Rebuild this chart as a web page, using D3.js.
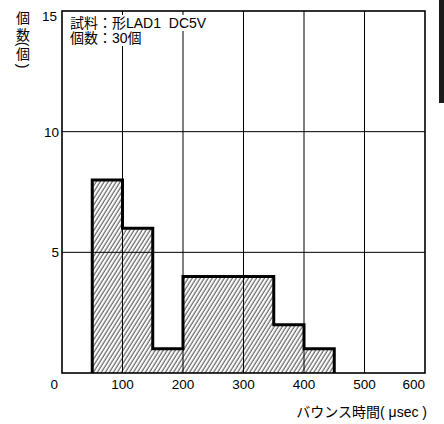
<!DOCTYPE html>
<html>
<head>
<meta charset="utf-8">
<script src="https://cdn.jsdelivr.net/npm/d3@7"></script>
<style>
html, body { margin: 0; padding: 0; background: #fff; overflow: hidden; }
svg { display: block; }
svg text { font-family: "Liberation Sans", Arial, "Noto Sans CJK JP", sans-serif; fill: #000; }
</style>
</head>
<body>
<div class="chart"></div>
<script>
// histogram bins (usec) and counts
const binStart = [50, 100, 150, 200, 250, 300, 350, 400];
const binEnd = [100, 150, 200, 250, 300, 350, 400, 450];
const counts = [8, 6, 1, 4, 4, 4, 2, 1];
const xTicks = [0, 100, 200, 300, 400, 500, 600];
const yTicks = [5, 10, 15];
const xGrid = [100, 200, 300, 400, 500];
const yGrid = [5, 10];
const noteLines = ['試料：形LAD1\u00a0\u00a0DC5V', '個数：30個'];

const width = 444, height = 424;
const svg = d3.select('.chart').append('svg')
	.attr('width', width)
	.attr('height', height);

const x = d3.scaleLinear().domain([0, 600]).range([62, 425]);
const y = d3.scaleLinear().domain([0, 15]).range([373, 11]);

const defs = svg.append('defs');
defs.append('pattern')
	.attr('id', 'hatch')
	.attr('patternUnits', 'userSpaceOnUse')
	.attr('width', 3.4)
	.attr('height', 4)
	.attr('patternTransform', 'rotate(32)')
	.append('line')
	.attr('x1', 1).attr('y1', 0)
	.attr('x2', 1).attr('y2', 4)
	.attr('stroke', '#000')
	.attr('stroke-width', 0.8);

// hatched bars
svg.selectAll('rect.bar')
	.data(counts)
	.enter()
	.append('rect')
	.attr('class', 'bar')
	.attr('x', (d, i) => x(binStart[i]))
	.attr('y', d => y(d))
	.attr('width', (d, i) => x(binEnd[i]) - x(binStart[i]))
	.attr('height', d => y(0) - y(d))
	.attr('fill', 'url(#hatch)');

// grid
svg.selectAll('line.vgrid')
	.data(xGrid)
	.enter()
	.append('line')
	.attr('x1', d => x(d)).attr('x2', d => x(d))
	.attr('y1', y(15)).attr('y2', y(0))
	.attr('stroke', '#000').attr('stroke-width', 1);

svg.selectAll('line.hgrid')
	.data(yGrid)
	.enter()
	.append('line')
	.attr('x1', x(0)).attr('x2', x(600))
	.attr('y1', d => y(d)).attr('y2', d => y(d))
	.attr('stroke', '#000').attr('stroke-width', 1);

// step outline
const pts = [[binStart[0], 0]];
counts.forEach((c, i) => { pts.push([binStart[i], c]); pts.push([binEnd[i], c]); });
pts.push([binEnd[binEnd.length - 1], 0]);
svg.append('path')
	.attr('d', d3.line().x(d => x(d[0])).y(d => y(d[1]))(pts))
	.attr('fill', 'none')
	.attr('stroke', '#000')
	.attr('stroke-width', 3)
	.attr('stroke-linejoin', 'miter');

// frame
svg.append('rect')
	.attr('x', x(0)).attr('y', y(15))
	.attr('width', x(600) - x(0)).attr('height', y(0) - y(15))
	.attr('fill', 'none').attr('stroke', '#000').attr('stroke-width', 1.6);

// note with white background
const note = svg.append('g');
noteLines.forEach((t, i) => {
	const tx = note.append('text')
		.attr('x', 70).attr('y', 28 + i * 15)
		.attr('font-size', '14px')
		.text(t);
	const bb = tx.node().getBBox();
	note.insert('rect', 'text')
		.attr('x', bb.x - 1).attr('y', bb.y)
		.attr('width', bb.width + 2).attr('height', bb.height)
		.attr('fill', '#fff');
});

// tick labels
svg.selectAll('text.xt')
	.data(xTicks)
	.enter()
	.append('text')
	.attr('x', d => d == 0 ? x(d) - 4 : x(d))
	.attr('y', 389)
	.attr('font-size', '13.5px')
	.attr('text-anchor', d => d == 0 || d == 600 ? 'end' : 'middle')
	.text(d => d);

svg.selectAll('text.yt')
	.data(yTicks)
	.enter()
	.append('text')
	.attr('x', d => d == 15 ? 57 : 59)
	.attr('y', d => d == 15 ? 21 : y(d) + 5)
	.attr('font-size', '13.5px')
	.attr('text-anchor', 'end')
	.text(d => d);

// axis titles
svg.append('text')
	.attr('x', 427).attr('y', 417)
	.attr('font-size', '14px')
	.attr('text-anchor', 'end')
	.text('バウンス時間( μsec )');

// vertical y title, one glyph at a time
const yTitle = [
	{ t: '個', cy: 18, rot: 0 },
	{ t: '数', cy: 35, rot: 0 },
	{ t: '(', cy: 44, rot: 90 },
	{ t: '個', cy: 54, rot: 0 },
	{ t: ')', cy: 66, rot: 90 }
];
svg.selectAll('text.ytl')
	.data(yTitle)
	.enter()
	.append('text')
	.attr('x', 23)
	.attr('y', d => d.cy)
	.attr('font-size', '14px')
	.attr('text-anchor', 'middle')
	.attr('dominant-baseline', 'central')
	.attr('transform', d => d.rot ? `rotate(${d.rot},23,${d.cy})` : null)
	.text(d => d.t);

// edge tab at right
svg.append('rect')
	.attr('x', 439).attr('y', 0)
	.attr('width', 5).attr('height', 103)
	.attr('fill', '#1a1a1a');
</script>
</body>
</html>
